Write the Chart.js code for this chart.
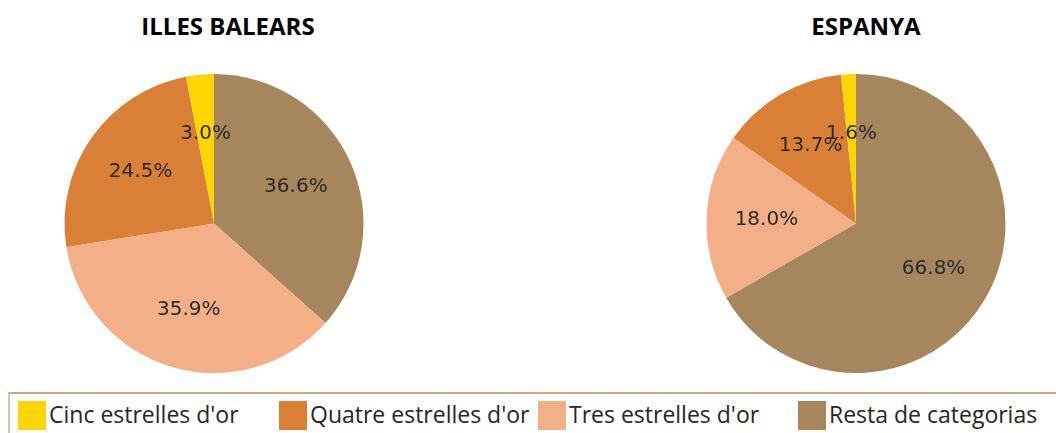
<!DOCTYPE html>
<html>
<head>
<meta charset="utf-8">
<script src="https://cdn.jsdelivr.net/npm/chart.js@4.4.1/dist/chart.umd.min.js"></script>
<style>
  html, body { margin:0; padding:0; background:#fff; width:1056px; height:433px; overflow:hidden; }
  .wrap { position:absolute; }
  .title { position:absolute; font-family:"Open Sans", sans-serif; font-weight:bold; font-size:24px; color:#000; line-height:1; white-space:nowrap; transform:translateX(-50%); }
  #legend { position:absolute; left:8px; top:392px; width:1100px; height:60px; border-top:2px solid #CDAA84; border-left:2px solid #DCC3A6; box-sizing:border-box; }
  .litem { position:absolute; top:401px; height:29px; }
  .lbox { position:absolute; left:0; top:0; width:28px; height:29px; }
  .ltext { position:absolute; top:-2px; font-family:"Open Sans", sans-serif; font-size:23px; color:#262626; white-space:nowrap; line-height:31px; }
</style>
</head>
<body>
<div class="title" style="left:228px; top:14px;">ILLES BALEARS</div>
<div class="title" style="left:866px; top:14px;">ESPANYA</div>
<div class="wrap" style="left:0; top:0; width:428px; height:390px;"><canvas id="c1"></canvas></div>
<div class="wrap" style="left:656px; top:0; width:400px; height:390px;"><canvas id="c2"></canvas></div>
<div id="legend"></div>
<script>
// ---- data ----
const categories = ["Cinc estrelles d'or", "Quatre estrelles d'or", "Tres estrelles d'or", "Resta de categorias"];
const balearsValues = [3.0, 24.5, 35.9, 36.6];
const espanyaValues = [1.6, 13.7, 18.0, 66.8];
const colors = ["#FFD500", "#D97F36", "#F3AF88", "#A6865C"];
const legendX = [18, 279, 538, 798];

// Pie slices are drawn clockwise from top in reverse category order
const rev = a => a.slice().reverse();

const labelPlugin = {
  id: 'pctLabels',
  afterDatasetsDraw(chart) {
    const ctx = chart.ctx;
    const meta = chart.getDatasetMeta(0);
    const data = chart.data.datasets[0].data;
    ctx.save();
    ctx.font = '20px "DejaVu Sans", sans-serif';
    ctx.fillStyle = '#2a2a2a';
    ctx.textAlign = 'center';
    ctx.textBaseline = 'middle';
    meta.data.forEach((arc, i) => {
      const p = arc.getProps(['x','y','startAngle','endAngle','outerRadius'], true);
      const mid = (p.startAngle + p.endAngle) / 2;
      const r = p.outerRadius * 0.6;
      ctx.fillText(data[i].toFixed(1) + '%', p.x + Math.cos(mid) * r, p.y + Math.sin(mid) * r);
    });
    ctx.restore();
  }
};

function makePie(id, values) {
  return new Chart(document.getElementById(id), {
    type: 'pie',
    data: {
      labels: rev(categories),
      datasets: [{
        data: rev(values),
        backgroundColor: rev(colors),
        borderWidth: 0,
        hoverOffset: 0
      }]
    },
    options: {
      responsive: true,
      maintainAspectRatio: false,
      animation: false,
      layout: { padding: { top: 74, bottom: 17, left: 0, right: 0 } },
      plugins: {
        legend: { display: false },
        tooltip: { enabled: false },
        title: { display: false }
      }
    },
    plugins: [labelPlugin]
  });
}
makePie('c1', balearsValues);
makePie('c2', espanyaValues);

// ---- legend ----
categories.forEach((c, i) => {
  const item = document.createElement('div');
  item.className = 'litem';
  item.style.left = legendX[i] + 'px';
  const box = document.createElement('div');
  box.className = 'lbox';
  box.style.background = colors[i];
  const t = document.createElement('div');
  t.className = 'ltext';
  t.style.left = '31px';
  t.textContent = c;
  item.appendChild(box);
  item.appendChild(t);
  document.body.appendChild(item);
});
</script>
</body>
</html>
